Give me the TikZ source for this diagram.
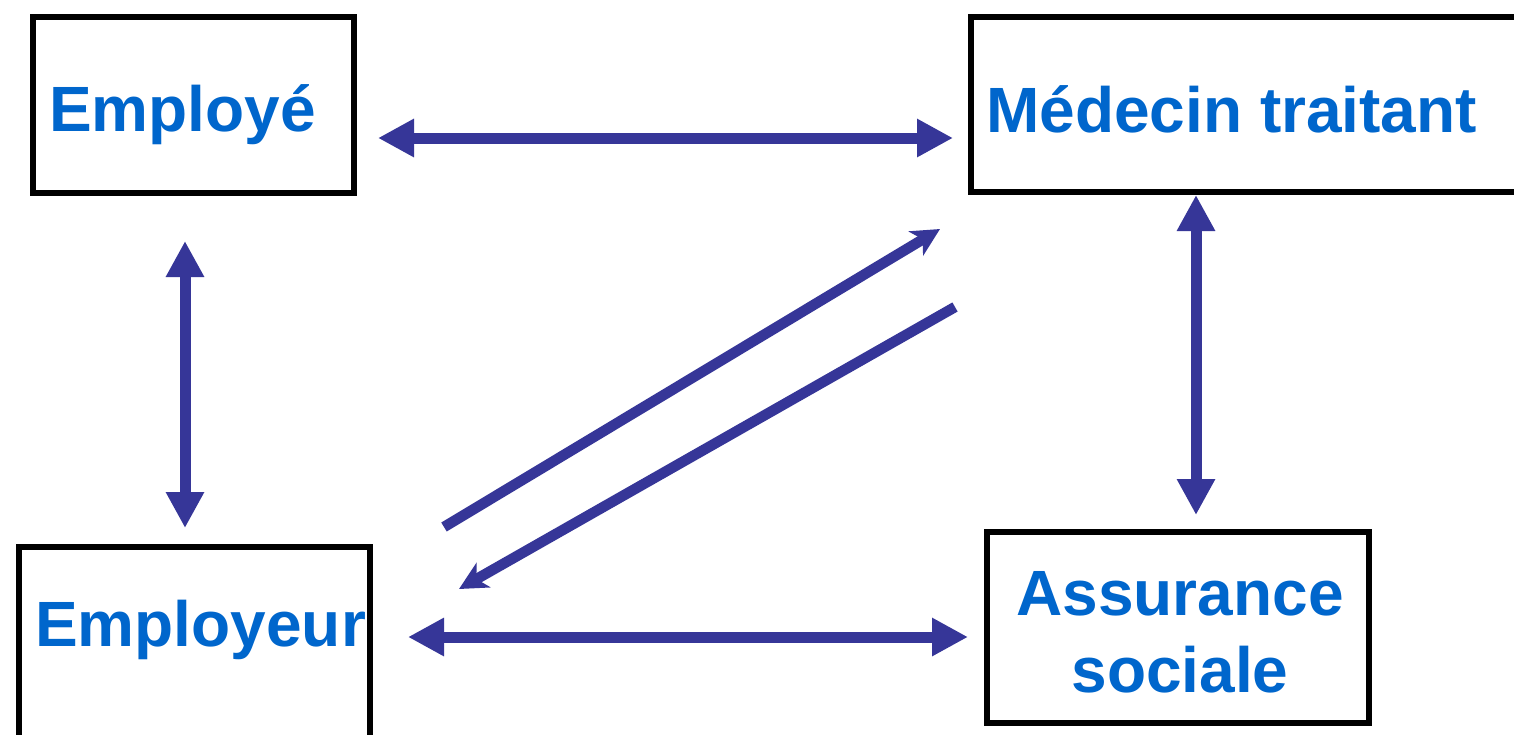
\documentclass[tikz,border=0pt]{standalone}
\usepackage{fontspec}
\setmainfont{Liberation Sans}
\usetikzlibrary{arrows.meta,calc}
\definecolor{arrowblue}{RGB}{54,54,152}
\definecolor{textblue}{RGB}{0,102,204}
\begin{document}
\begin{tikzpicture}[x=1pt,y=-1pt,
  box/.style={draw=black,line width=6pt,rectangle,inner sep=0pt,anchor=north west,fill=white},
  boxtext/.style={text=textblue,font=\fontsize{64}{77}\selectfont\bfseries,inner sep=0pt},
  bigarrow/.style={draw=arrowblue,line width=11pt,{Triangle[length=36pt,width=36pt]}-{Triangle[length=36pt,width=36pt]}},
  thinarrow/.style={draw=arrowblue,line width=10.5pt,-{Stealth[length=28pt,width=28pt,inset=8pt]}}]
\useasboundingbox (0,0) rectangle (1514,734);
\clip (0,0) rectangle (1514,734);
\fill[white] (0,0) rectangle (1514,734);
% boxes
\node[box,minimum width=321pt,minimum height=176pt] (emp) at (30,13.5) {};
\node[box,minimum width=560pt,minimum height=175pt] (med) at (968,14) {};
\node[box,minimum width=351pt,minimum height=200pt] (empr) at (16,544) {};
\node[box,minimum width=382pt,minimum height=191pt] (ass) at (984,529) {};
% texts
\node[boxtext,anchor=base west] (t1) at (49,131) {Employé};
\node[boxtext,anchor=base west] (t2) at (986,132) {Médecin traitant};
\node[boxtext,anchor=base west] (t3) at (35,646) {Employeur};
\node[boxtext,align=center,anchor=base] (t4) at (1180,692) {Assurance\\sociale};
% connectors
\draw[bigarrow] ($(emp.east)+(21,33.5)$) -- ($(med.west)+(-15,33.5)$);
\draw[bigarrow] ($(emp.south)+(-8.5,45.5)$) -- ($(empr.north)+(-9.5,-16)$);
\draw[bigarrow] ($(med.south)+(-55,0)$) -- ($(ass.north)+(18,-14)$);
\draw[bigarrow] ($(empr.east)+(35,-10)$) -- ($(ass.west)+(-16,9.5)$);
\draw[thinarrow] ($(empr.north east)+(71,-17)$) -- ($(med.south west)+(-28,34)$);
\draw[thinarrow] ($(med.south west)+(-13,112)$) -- ($(empr.north east)+(86,45)$);
\end{tikzpicture}
\end{document}
